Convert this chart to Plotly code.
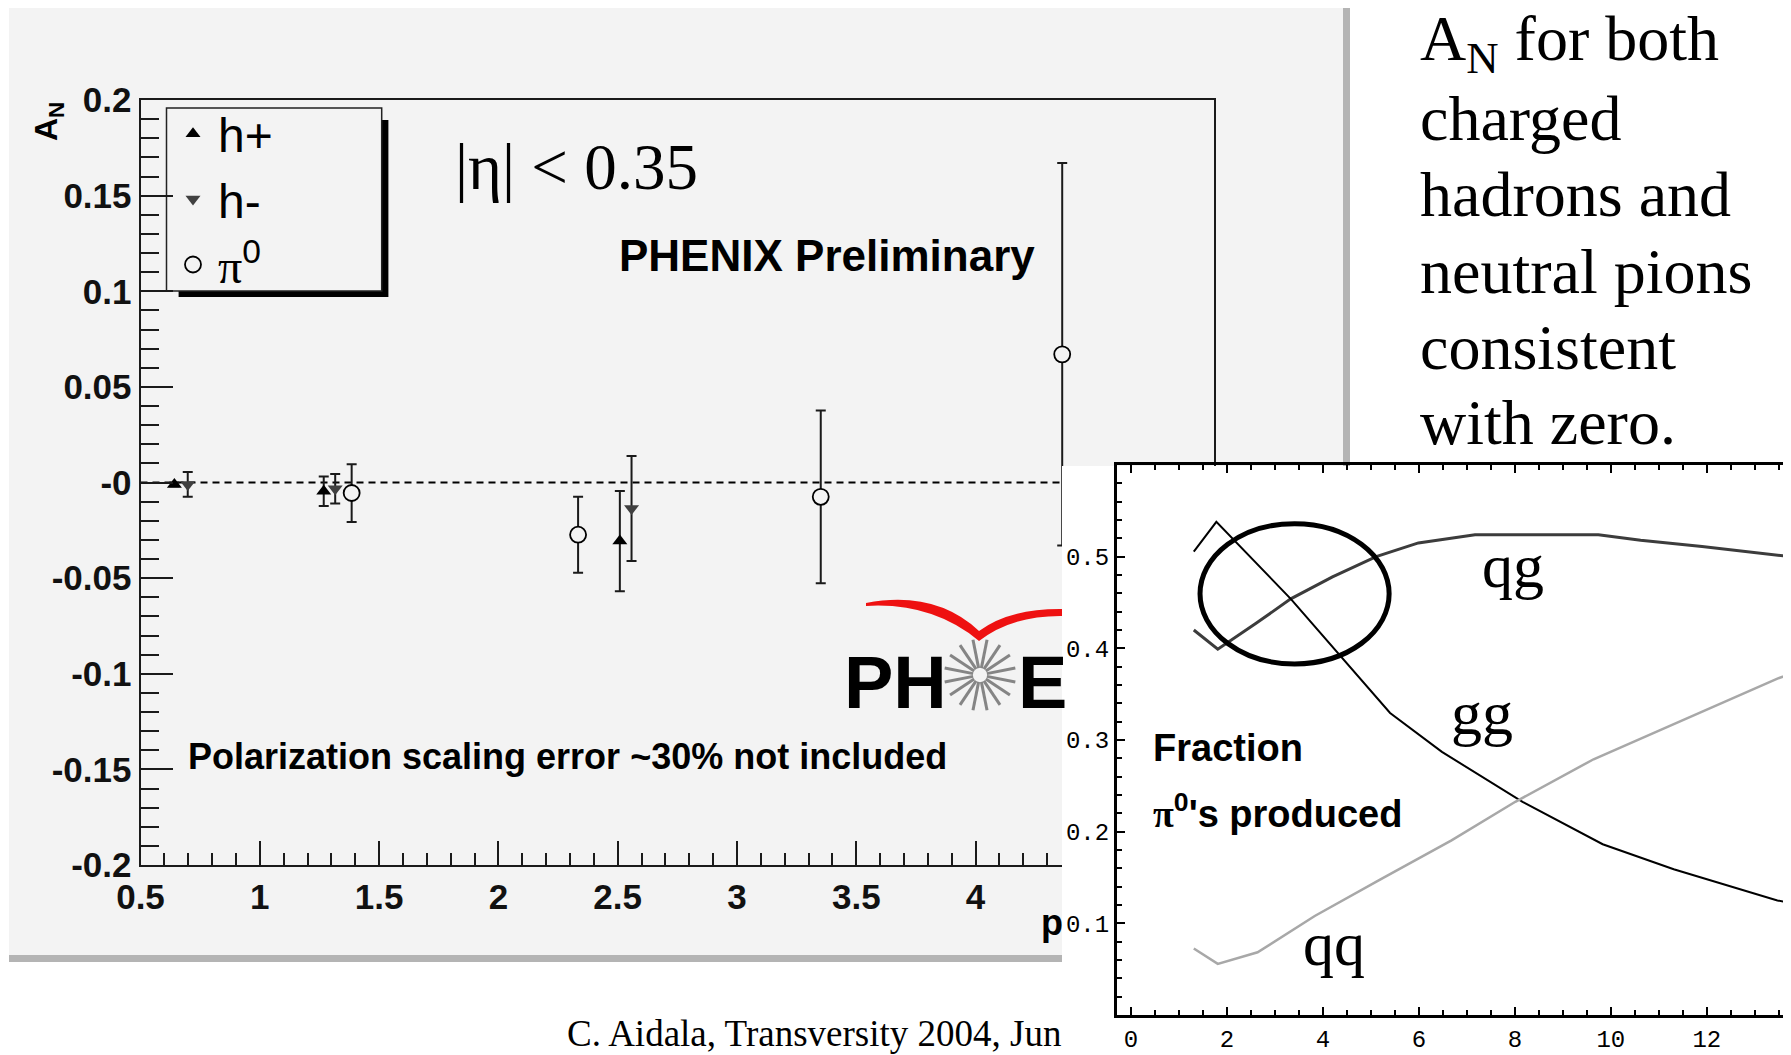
import numpy as np
import plotly.graph_objects as go

W, H = 1791, 1055
OFF = 8  # compensate for the page's default body margin

# ---------------- main plot data (A_N vs pT) ----------------
hplus_x = [0.642, 1.268, 2.509]
hplus_y = [-0.001, -0.0046, -0.0306]
hplus_err = [0.001, 0.0077, 0.0262]

hminus_x = [0.698, 1.316, 2.558]
hminus_y = [-0.001, -0.0033, -0.0136]
hminus_err = [0.0065, 0.0077, 0.0275]

pi0_x = [1.385, 2.334, 3.351, 4.363]
pi0_y = [-0.0055, -0.0273, -0.0075, 0.067]
pi0_err = [0.0151, 0.0199, 0.0452, 0.100]

y_tickvals = [0.2, 0.15, 0.1, 0.05, 0.0, -0.05, -0.1, -0.15, -0.2]
y_ticktext = ["0.2", "0.15", "0.1", "0.05", "-0", "-0.05", "-0.1", "-0.15", "-0.2"]
x_tickvals = [0.5, 1, 1.5, 2, 2.5, 3, 3.5, 4, 4.5, 5]
x_ticktext = ["0.5", "1", "1.5", "2", "2.5", "3", "3.5", "4", "4.5", "5"]

# ---------------- inset data (fraction of pi0 produced) ----------------
qg_x = [1.31, 1.81, 2.6, 3.33, 4.2, 5.11, 5.99, 7.17, 9.74, 10.62, 11.9, 13.47, 13.9]
qg_y = [0.42, 0.399, 0.427, 0.454, 0.478, 0.500, 0.515, 0.524, 0.524, 0.518, 0.511, 0.501, 0.499]
gg_x = [1.31, 1.78, 3.33, 4.42, 5.40, 6.48, 8.16, 9.83, 11.31, 13.47, 13.9]
gg_y = [0.5055, 0.538, 0.454, 0.388, 0.3295, 0.287, 0.2326, 0.1863, 0.159, 0.125, 0.121]
qq_x = [1.31, 1.81, 2.64, 3.83, 5.20, 6.68, 8.01, 9.64, 11.11, 13.47, 13.9]
qq_y = [0.0726, 0.0558, 0.0684, 0.108, 0.148, 0.1905, 0.2326, 0.279, 0.3126, 0.367, 0.375]

inset_y_tickvals = [0.1, 0.2, 0.3, 0.4, 0.5]
inset_y_ticktext = ["0.1", "0.2", "0.3", "0.4", "0.5"]
inset_x_tickvals = [0, 2, 4, 6, 8, 10, 12]
inset_x_ticktext = ["0", "2", "4", "6", "8", "10", "12"]

right_lines = ["A<sub>N</sub> for both", "charged", "hadrons and",
               "neutral pions", "consistent", "with zero."]


def px(x):
    return (x - OFF) / W


def py(y):
    return 1 - (y - OFF) / H


SANS = "Liberation Sans, Arial, Helvetica, sans-serif"
SERIF = "Liberation Serif, Times New Roman, serif"
MONO = "Liberation Mono, DejaVu Sans Mono, monospace"
PANEL = "#f3f3f3"
INK = "#1a1a1a"

fig = go.Figure()

# main subplot traces
fig.add_trace(go.Scatter(
    x=hplus_x, y=hplus_y, mode="markers", name="h+",
    marker=dict(symbol="triangle-up", size=13, color="#000000"),
    error_y=dict(type="data", array=hplus_err, color=INK, thickness=2, width=5),
    xaxis="x", yaxis="y"))
fig.add_trace(go.Scatter(
    x=hminus_x, y=hminus_y, mode="markers", name="h-",
    marker=dict(symbol="triangle-down", size=13, color="#404040"),
    error_y=dict(type="data", array=hminus_err, color=INK, thickness=2, width=5),
    xaxis="x", yaxis="y"))
fig.add_trace(go.Scatter(
    x=pi0_x, y=pi0_y, mode="markers",
    name="<span style='font-family:Liberation Serif'>π</span><sup>0</sup>",
    marker=dict(symbol="circle", size=16, color=PANEL, line=dict(color="#000000", width=1.8)),
    error_y=dict(type="data", array=pi0_err, color=INK, thickness=2, width=5),
    xaxis="x", yaxis="y"))

# white cover panel for the inset (drawn above main subplot)
fig.add_trace(go.Scatter(
    x=[0, 1, 1, 0, 0], y=[0, 0, 1, 1, 0], mode="lines", fill="toself",
    fillcolor="#ffffff", line=dict(width=0, color="#ffffff"),
    showlegend=False, hoverinfo="skip", xaxis="x2", yaxis="y2"))

# inset curves
fig.add_trace(go.Scatter(x=qg_x, y=qg_y, mode="lines", showlegend=False,
                         line=dict(color="#3c3c3c", width=3), xaxis="x3", yaxis="y3"))
fig.add_trace(go.Scatter(x=gg_x, y=gg_y, mode="lines", showlegend=False,
                         line=dict(color="#000000", width=2), xaxis="x3", yaxis="y3"))
fig.add_trace(go.Scatter(x=qq_x, y=qq_y, mode="lines", showlegend=False,
                         line=dict(color="#a8a8a8", width=2.5), xaxis="x3", yaxis="y3"))

shapes = []
# grey canvas panel + shadow
shapes.append(dict(type="rect", xref="paper", yref="paper", x0=px(9), x1=px(1345), y0=py(957), y1=py(6),
                   fillcolor=PANEL, line=dict(width=0), layer="below"))
shapes.append(dict(type="rect", xref="paper", yref="paper", x0=px(1343), x1=px(1350), y0=py(962), y1=py(6),
                   fillcolor="#b4b4b4", line=dict(width=0), layer="below"))
shapes.append(dict(type="rect", xref="paper", yref="paper", x0=px(9), x1=px(1350), y0=py(962), y1=py(955),
                   fillcolor="#b4b4b4", line=dict(width=0), layer="below"))
# legend box with shadow
shapes.append(dict(type="rect", xref="paper", yref="paper", x0=px(178.6), x1=px(388.4), y0=py(297), y1=py(120),
                   fillcolor="#000000", line=dict(width=0), layer="below"))
shapes.append(dict(type="rect", xref="paper", yref="paper", x0=px(166.5), x1=px(381.7), y0=py(291), y1=py(108),
                   fillcolor=PANEL, line=dict(width=1.5, color="#222222"), layer="below"))
# dashed zero line
shapes.append(dict(type="line", xref="x domain", yref="y", x0=0, x1=1, y0=0, y1=0,
                   line=dict(color="#000000", width=2, dash="7px,5px"), layer="below"))

# PHENIX logo: red arc
arc_pts = ("M {:.5f},{:.5f} Q {:.5f},{:.5f} {:.5f},{:.5f} Q {:.5f},{:.5f} {:.5f},{:.5f} "
           "L {:.5f},{:.5f} Q {:.5f},{:.5f} {:.5f},{:.5f} Q {:.5f},{:.5f} {:.5f},{:.5f} Z").format(
    px(866), py(603), px(935), py(590), px(979), py(631),
    px(1010), py(608), px(1064), py(609),
    px(1064), py(616), px(1012), py(615), px(979), py(641),
    px(932), py(602), px(866), py(606))
shapes.append(dict(type="path", xref="paper", yref="paper", path=arc_pts,
                   fillcolor="#ee1111", line=dict(width=0), layer="below"))
# starburst
cx, cy, r_in, r_out = 980, 675, 7, 36
for k in range(16):
    a = 2 * np.pi * k / 16 + np.pi / 16
    shapes.append(dict(type="line", xref="paper", yref="paper",
                       x0=px(cx + r_in * np.cos(a)), y0=py(cy + r_in * np.sin(a)),
                       x1=px(cx + r_out * np.cos(a)), y1=py(cy + r_out * np.sin(a)),
                       line=dict(color="#858585", width=3), layer="below"))
# ellipse in inset
shapes.append(dict(type="circle", xref="x3", yref="y3", x0=1.44, x1=5.38, y0=0.383, y1=0.536,
                   line=dict(color="#000000", width=5), layer="above"))

annotations = []


def ann(text, x, y, size, family=SANS, weight="normal", xanchor="left", yanchor="middle", angle=0, color="#000000"):
    annotations.append(dict(text=text, x=px(x), y=py(y), xref="paper", yref="paper", showarrow=False,
                            xanchor=xanchor, yanchor=yanchor, textangle=angle,
                            font=dict(family=family, size=size, weight=weight, color=color)))


ann("|η| &lt; 0.35", 576, 167, 65, family=SERIF, xanchor="center")
ann("PHENIX Preliminary", 617, 256, 44, weight="bold")
ann("Polarization scaling error ~30% not included", 186, 756, 36, weight="bold")
ann("A<sub>N</sub>", 48, 122, 32, weight="bold", xanchor="center", angle=-90)
ann("p", 1039, 922, 36, weight="bold")
ann("C. Aidala, Transversity 2004, Jun", 565, 1033, 37, family=SERIF)
ann("PH", 842, 682, 74, weight="bold")
ann("E", 1016, 682, 74, weight="bold")
for i, line in enumerate(right_lines):
    ann(line, 1418, 43 + 76 * i, 64, family=SERIF)
ann("Fraction", 1151, 748, 38, weight="bold")
ann("<span style='font-family:Liberation Serif'>π</span><sup>0</sup>'s produced", 1151, 811, 38, weight="bold")
ann("qg", 1513, 566, 62, family=SERIF, xanchor="center")
ann("gg", 1482, 713, 62, family=SERIF, xanchor="center")
ann("qq", 1334, 944, 62, family=SERIF, xanchor="center")

tickfont_main = dict(family=SANS, size=35, weight="bold", color="#111111")
tickfont_inset = dict(family=MONO, size=24, color="#000000")

fig.update_layout(
    width=W, height=H, margin=dict(l=0, r=0, t=0, b=0, pad=0, autoexpand=False),
    paper_bgcolor="#ffffff", plot_bgcolor="rgba(0,0,0,0)",
    showlegend=True,
    legend=dict(x=px(168), y=py(96), xanchor="left", yanchor="top",
                bgcolor="rgba(0,0,0,0)", borderwidth=0, itemwidth=40,
                font=dict(family=SANS, size=48, color="#000000"), tracegroupgap=0),
    xaxis=dict(domain=[px(140.5), px(1214.2)], range=[0.5, 5], anchor="y", automargin=False,
               tickvals=x_tickvals, ticktext=x_ticktext, ticks="inside", ticklen=24, tickwidth=2,
               tickcolor=INK, showline=True, linecolor=INK, linewidth=2, mirror=True,
               showgrid=False, zeroline=False, tickfont=tickfont_main,
               minor=dict(dtick=0.1, tick0=0.5, ticks="inside", ticklen=12, tickwidth=2, tickcolor=INK)),
    yaxis=dict(domain=[py(865), py(100)], range=[-0.2, 0.2], anchor="x", automargin=False,
               tickvals=y_tickvals, ticktext=y_ticktext, ticks="inside", ticklen=32, tickwidth=2,
               tickcolor=INK, showline=True, linecolor=INK, linewidth=2, mirror=True,
               showgrid=False, zeroline=False, tickfont=tickfont_main,
               minor=dict(dtick=0.01, tick0=0, ticks="inside", ticklen=18, tickwidth=2, tickcolor=INK)),
    xaxis2=dict(domain=[px(1062), 1], range=[0, 1], visible=False, fixedrange=True, anchor="y2",
                automargin=False),
    yaxis2=dict(domain=[0, py(466)], range=[0, 1], visible=False, fixedrange=True, anchor="x2",
                automargin=False),
    xaxis3=dict(domain=[px(1117), 1], range=[-0.29, 13.92], anchor="y3", automargin=False,
                tickvals=inset_x_tickvals, ticktext=inset_x_ticktext, ticks="inside", ticklen=8, tickwidth=2,
                tickcolor="#000000", showline=True, linecolor="#000000", linewidth=3, mirror="ticks",
                showgrid=False, zeroline=False, tickfont=tickfont_inset,
                minor=dict(dtick=0.5, tick0=0, ticks="inside", ticklen=5, tickwidth=2, tickcolor="#000000")),
    yaxis3=dict(domain=[py(1015), py(465)], range=[0, 0.6], anchor="x3", automargin=False,
                tickvals=inset_y_tickvals, ticktext=inset_y_ticktext, ticks="inside", ticklen=8, tickwidth=2,
                tickcolor="#000000", showline=True, linecolor="#000000", linewidth=3,
                showgrid=False, zeroline=False, tickfont=tickfont_inset,
                minor=dict(dtick=0.02, tick0=0, ticks="inside", ticklen=5, tickwidth=2, tickcolor="#000000")),
    shapes=shapes,
    annotations=annotations,
)

fig.write_html("out.html")
